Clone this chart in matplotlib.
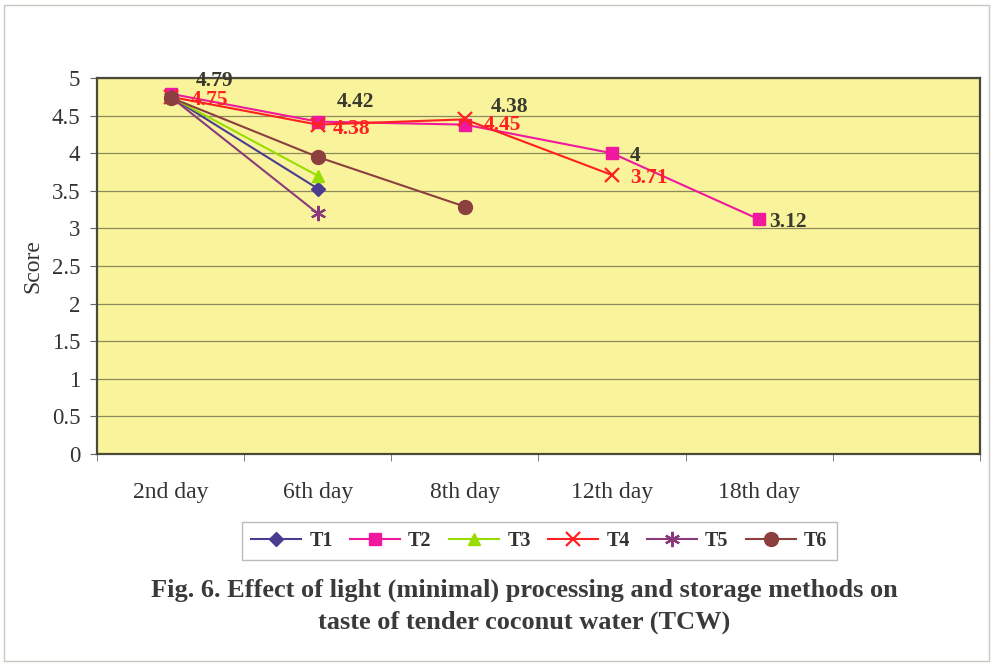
import matplotlib
matplotlib.use("Agg")
import matplotlib.pyplot as plt
import numpy as np
from matplotlib.patches import Rectangle

plt.rcParams['font.family'] = ['Liberation Serif', 'DejaVu Serif']

days = ["2nd day", "6th day", "8th day", "12th day", "18th day", ""]
t1 = [4.75, 3.53]
t2 = [4.79, 4.42, 4.38, 4.0, 3.12]
t3 = [4.75, 3.70]
t4 = [4.75, 4.38, 4.45, 3.71]
t5 = [4.75, 3.20]
t6 = [4.74, 3.95, 3.29]
yticks = [0, 0.5, 1, 1.5, 2, 2.5, 3, 3.5, 4, 4.5, 5]
ytick_labels = ["0", "0.5", "1", "1.5", "2", "2.5", "3", "3.5", "4", "4.5", "5"]

fig = plt.figure(figsize=(9.93, 6.65), dpi=100)
fig.patch.set_facecolor('white')
fig.patches.append(Rectangle((0.004, 0.006), 0.992, 0.986, transform=fig.transFigure,
                             fill=False, edgecolor='#c8c8c0', linewidth=1.0))

ax = fig.add_axes([0.0977, 0.3173, 0.889, 0.5654])
ax.set_facecolor('#f9f49c')

series = [
    ("T1", t1, '#4a3d8f', 'D', 7, 'none'),
    ("T2", t2, '#f0189c', 's', 9, 'none'),
    ("T3", t3, '#99dd00', '^', 9, 'none'),
    ("T4", t4, '#ff2020', 'x', 10, 'none'),
    ("T5", t5, '#8a3a7a', (6, 2, 0), 11, 'none'),
    ("T6", t6, '#8b3f3f', 'o', 10, 'none'),
]
for name, vals, col, mk, ms, _ in series:
    x = np.arange(len(vals))
    ax.plot(x, vals, color=col, marker=mk, markersize=ms, linewidth=1.5,
            markeredgewidth=1.6 if mk in ('x', (6, 2, 0)) else 1.0,
            markeredgecolor=col, markerfacecolor=col, label=name, zorder=3)

# data labels
t2_offsets = [(25, 13), (19, 20), (26, 18), (18, -3), (10, -3)]
t4_offsets = [(20, -3), (15, -4), (19, -6), (18, -3)]
for i, v in enumerate(t2):
    ax.annotate(f"{v:g}", (i, v), xytext=t2_offsets[i], textcoords='offset pixels',
                ha='left', va='center', fontsize=15.5, fontweight='bold', color='#3a3a2e', zorder=5)
for i, v in enumerate(t4):
    ax.annotate(f"{v:g}", (i, v), xytext=t4_offsets[i], textcoords='offset pixels',
                ha='left', va='center', fontsize=15.5, fontweight='bold', color='#ff2020', zorder=5)

ax.set_xlim(-0.5, len(days) - 0.5)
ax.set_ylim(0, 5)
ax.set_yticks(yticks)
ax.set_yticklabels(ytick_labels, fontsize=16.5, color='#333333')
ax.set_xticks(np.arange(len(days)))
ax.set_xticklabels(days, fontsize=17, color='#333333')
ax.set_xticks(np.arange(len(days) + 1) - 0.5, minor=True)
ax.tick_params(axis='x', which='major', length=0, pad=20)
ax.tick_params(axis='x', which='minor', length=5, color='#666666')
ax.tick_params(axis='y', length=5, color='#666666', pad=7)
ax.grid(axis='y', color='#8c8a5c', linewidth=0.9)
ax.set_axisbelow(True)
for s in ax.spines.values():
    s.set_color('#4a4a3a')
    s.set_linewidth(1.6)
ax.set_ylabel("Score", fontsize=17, color='#333333', labelpad=6)

leg = fig.legend(loc='center', bbox_to_anchor=(0.543, 0.186), ncol=6,
                 prop={'weight': 'bold', 'size': 14.5}, frameon=True, fancybox=False,
                 edgecolor='#aaaaaa', handlelength=2.5, columnspacing=0.85,
                 handletextpad=0.4, borderpad=0.45)
leg.get_frame().set_linewidth(1.0)
for t in leg.get_texts():
    t.set_color('#333333')

fig.text(0.528, 0.112, "Fig. 6. Effect of light (minimal) processing and storage methods on",
         ha='center', va='center', fontsize=19, fontweight='bold', color='#3a3a3a')
fig.text(0.528, 0.064, "taste of tender coconut water (TCW)",
         ha='center', va='center', fontsize=19, fontweight='bold', color='#3a3a3a')

fig.savefig("out.png", dpi=100)
